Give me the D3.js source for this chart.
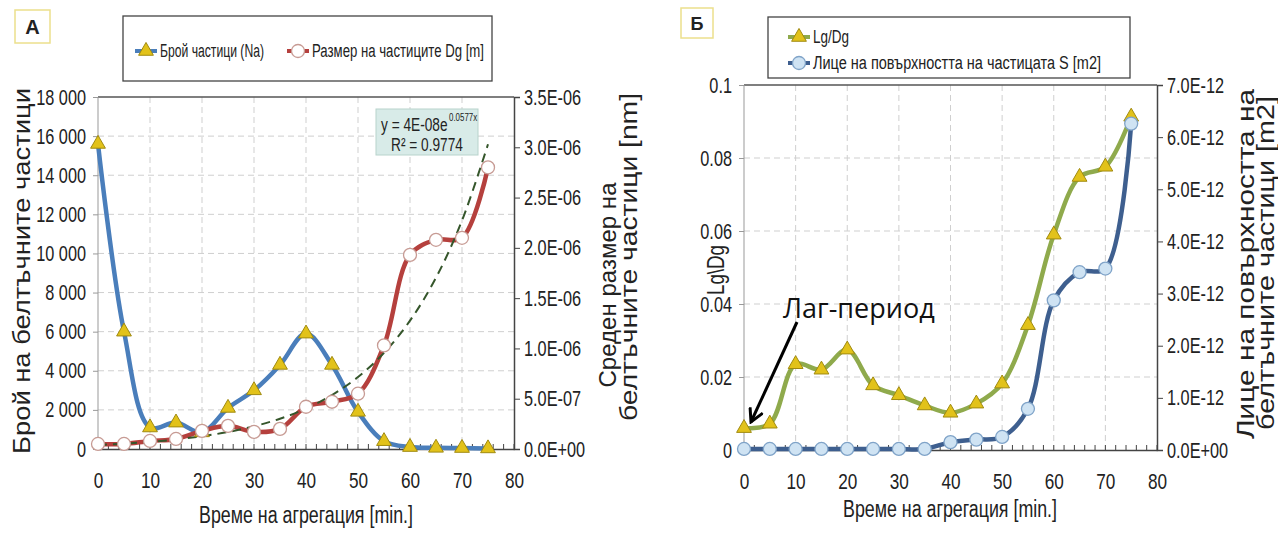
<!DOCTYPE html>
<html><head><meta charset="utf-8">
<script src="https://cdn.jsdelivr.net/npm/d3@7"></script>
<style>body{margin:0;background:#fff}svg{display:block}</style>
</head><body><svg id="c" width="1278" height="535"></svg>
<script>
// ---------- data ----------
const times = [0,5,10,15,20,25,30,35,40,45,50,55,60,65,70,75];
const naValues = [15600,6000,1100,1350,850,2100,3000,4300,5900,4300,1900,400,100,60,50,30];
const dgValues = [0.05,0.05,0.08,0.10,0.18,0.23,0.17,0.20,0.42,0.47,0.55,1.03,1.93,2.08,2.10,2.80]; // x1E-06
const dgTrend  = [0.04,0.053,0.071,0.095,0.127,0.169,0.226,0.301,0.402,0.537,0.716,0.956,1.276,1.703,2.272,3.03]; // x1E-06
const lgdgValues = [0.006,0.0072,0.0235,0.022,0.0275,0.0177,0.015,0.0122,0.0102,0.0127,0.0182,0.0342,0.059,0.0748,0.0776,0.0913];
const sValues = [0.02,0.02,0.02,0.02,0.02,0.02,0.02,0.02,0.15,0.20,0.25,0.79,2.87,3.41,3.48,6.26]; // x1E-12
const xTicks = [0,10,20,30,40,50,60,70,80];
const naTicks = [0,2000,4000,6000,8000,10000,12000,14000,16000,18000];
const naTickLabels = ["0","2 000","4 000","6 000","8 000","10 000","12 000","14 000","16 000","18 000"];
const dgTicks = [0,0.5,1,1.5,2,2.5,3,3.5];
const dgTickLabels = ["0.0E+00","5.0E-07","1.0E-06","1.5E-06","2.0E-06","2.5E-06","3.0E-06","3.5E-06"];
const lgTicks = [0,0.02,0.04,0.06,0.08,0.1];
const lgTickLabels = ["0","0.02","0.04","0.06","0.08","0.1"];
const sTicks = [0,1,2,3,4,5,6,7];
const sTickLabels = ["0.0E+00","1.0E-12","2.0E-12","3.0E-12","4.0E-12","5.0E-12","6.0E-12","7.0E-12"];

const SANS = "'Liberation Sans',Arial,sans-serif";
const NARROW = SANS;
const svg = d3.select("#c");

function squeeze(sel, f){
  sel.each(function(){
    const w = this.getComputedTextLength();
    d3.select(this).attr("textLength", w*f).attr("lengthAdjust","spacingAndGlyphs");
  });
}
function fit(sel, len){
  sel.attr("textLength", len).attr("lengthAdjust","spacingAndGlyphs");
}

const triPath = d3.symbol().type(d3.symbolTriangle).size(95)();
function marker(g, type, x, y, fill, stroke){
  if(type==="tri"){
    g.append("path").attr("d", triPath).attr("transform",`translate(${x},${y})`)
      .attr("fill",fill).attr("stroke",stroke).attr("stroke-width",1);
  } else {
    g.append("circle").attr("cx",x).attr("cy",y).attr("r",6.5)
      .attr("fill",fill).attr("stroke",stroke).attr("stroke-width",1.3);
  }
}

function panel(o){
  const g = svg.append("g");
  const x = d3.scaleLinear().domain([0,80]).range([o.x0,o.x1]);
  const yL = d3.scaleLinear().domain(o.lDomain).range([o.bottom,o.top]);
  const yR = d3.scaleLinear().domain(o.rDomain).range([o.bottom,o.top]);
  g.selectAll(".hg").data(o.lTicks.slice(1,-1)).join("line")
    .attr("x1",o.x0).attr("x2",o.x1).attr("y1",d=>yL(d)).attr("y2",d=>yL(d))
    .attr("stroke","#cfcfcf").attr("stroke-dasharray","6,4").attr("stroke-width",1);
  g.selectAll(".vg").data(xTicks.slice(1,-1)).join("line")
    .attr("x1",d=>x(d)).attr("x2",d=>x(d)).attr("y1",o.top).attr("y2",o.bottom)
    .attr("stroke","#cfcfcf").attr("stroke-dasharray","6,4").attr("stroke-width",1);
  g.append("line").attr("x1",o.x0).attr("x2",o.x1).attr("y1",o.top).attr("y2",o.top).attr("stroke","#555").attr("stroke-width",1.5);
  g.append("line").attr("x1",o.x0).attr("x2",o.x0).attr("y1",o.top).attr("y2",o.bottom).attr("stroke","#999").attr("stroke-width",1);
  const ax = g.append("g").attr("transform",`translate(${o.x0},0)`)
    .call(d3.axisLeft(yL).tickValues(o.lTicks).tickFormat((d,i)=>o.lLabels[i]).tickSize(5).tickPadding(7));
  ax.select(".domain").remove();
  ax.selectAll("line").attr("stroke","#999");
  ax.selectAll("text").attr("font-family",NARROW).attr("font-size",22).attr("fill","#222").call(squeeze,0.74);
  const ar = g.append("g").attr("transform",`translate(${o.x1},0)`)
    .call(d3.axisRight(yR).tickValues(o.rTicks).tickFormat((d,i)=>o.rLabels[i]).tickSize(6).tickPadding(4));
  ar.select(".domain").attr("stroke","#444").attr("stroke-width",1.5);
  ar.selectAll("line").attr("stroke","#444");
  ar.selectAll("text").attr("font-family",NARROW).attr("font-size",22).attr("fill","#222").call(squeeze,0.74);
  const ab = g.append("g").attr("transform",`translate(0,${o.bottom})`)
    .call(d3.axisBottom(x).tickValues(xTicks).tickSize(0).tickPadding(23));
  ab.select(".domain").attr("stroke","#444").attr("stroke-width",1.5);
  ab.selectAll("text").attr("font-family",NARROW).attr("font-size",22).attr("fill","#222").call(squeeze,0.78);
  g.selectAll(".mt").data(d3.range(0,81,2)).join("line")
    .attr("x1",d=>x(d)).attr("x2",d=>x(d)).attr("y1",o.bottom).attr("y2",o.bottom-5)
    .attr("stroke","#444").attr("stroke-width",1);
  return {g,x,yL,yR};
}

function series(p, vals, yScale, color, width){
  const pts = times.map((t,i)=>[p.x(t), yScale(vals[i])]);
  p.g.append("path").attr("d", d3.line().curve(d3.curveCatmullRom.alpha(0.5))(pts))
    .attr("fill","none").attr("stroke",color).attr("stroke-width",width).attr("stroke-linejoin","round");
  return pts;
}
function markers(p, pts, mtype, mfill, mstroke){
  pts.forEach(q=>marker(p.g, mtype, q[0], q[1], mfill, mstroke));
}
function rotTitle(x, y, text, len, size){
  svg.append("text").attr("transform",`translate(${x},${y}) rotate(-90)`).attr("text-anchor","middle")
    .attr("font-family",SANS).attr("font-size",size||22).attr("fill","#222").text(text).call(fit,len);
}

// ---------- Panel A ----------
const A = panel({x0:98,x1:514,top:97,bottom:449,lDomain:[0,18000],rDomain:[0,3.5],
  lTicks:naTicks,lLabels:naTickLabels,rTicks:dgTicks,rLabels:dgTickLabels});
const naPts = series(A, naValues, A.yL, "#4a7ebb", 4.5);
const dgPts = series(A, dgValues, A.yR, "#b5403d", 4.5);
A.g.append("path").attr("d", d3.line().curve(d3.curveCatmullRom)(times.map((t,i)=>[A.x(t),A.yR(dgTrend[i])])))
  .attr("fill","none").attr("stroke","#35562b").attr("stroke-width",2).attr("stroke-dasharray","9,6");
markers(A, naPts, "tri", "#e2c21a", "#a08a10");
markers(A, dgPts, "circ", "#ffffff", "#c79b94");

// equation box
A.g.append("rect").attr("x",376).attr("y",109).attr("width",102).attr("height",46)
  .attr("fill","#d8ebe8").attr("stroke","#b8d3cc");
A.g.append("text").attr("transform","translate(381,131) scale(0.72,1)").attr("font-family",NARROW).attr("font-size",19).attr("fill","#222")
  .text("y = 4E-08e");
A.g.append("text").attr("transform","translate(449,121) scale(0.72,1)").attr("font-family",NARROW).attr("font-size",11).attr("fill","#222")
  .text("0.0577x");
A.g.append("text").attr("transform","translate(427,151) scale(0.72,1)").attr("text-anchor","middle").attr("font-family",NARROW).attr("font-size",19).attr("fill","#222").text("R² = 0.9774");

// axis titles A
rotTitle(30,271,"Брой на белтъчните частици",366,23);
rotTitle(616,285,"Среден размер на",205,23);
rotTitle(637,257,"белтъчните частици [nm]",328,23);
svg.append("text").attr("x",306).attr("y",523).attr("text-anchor","middle")
  .attr("font-family",NARROW).attr("font-size",23).attr("fill","#222").text("Време на агрегация [min.]").call(fit,214);

// legend A
svg.append("rect").attr("x",123).attr("y",16).attr("width",369).attr("height",65).attr("fill","#fff").attr("stroke","#444").attr("stroke-width",1.3);
function legItem(x,y,color,mtype,mfill,mstroke,label,len){
  svg.append("line").attr("x1",x).attr("x2",x+22).attr("y1",y).attr("y2",y).attr("stroke",color).attr("stroke-width",4);
  marker(svg, mtype, x+11, y, mfill, mstroke);
  svg.append("text").attr("x",x+25).attr("y",y+6).attr("font-family",NARROW).attr("font-size",18).attr("fill","#222").text(label).call(fit,len);
}
legItem(135,51,"#4a7ebb","tri","#e2c21a","#a08a10","Брой частици (Na)",104);
legItem(287,51,"#b5403d","circ","#ffffff","#c79b94","Размер на частиците Dg [m]",172);
svg.append("rect").attr("x",15).attr("y",10).attr("width",35).attr("height",33).attr("fill","#fff").attr("stroke","#ecdf8c").attr("stroke-width",1.5);
svg.append("text").attr("x",32.5).attr("y",34).attr("text-anchor","middle").attr("font-family",SANS).attr("font-weight","bold").attr("font-size",20).attr("fill","#222").text("A");

// ---------- Panel Б ----------
const B = panel({x0:744,x1:1157,top:85,bottom:450,lDomain:[0,0.1],rDomain:[0,7],
  lTicks:lgTicks,lLabels:lgTickLabels,rTicks:sTicks,rLabels:sTickLabels});
const lgPts = series(B, lgdgValues, B.yL, "#8faa4c", 4.5);
const sPts = series(B, sValues, B.yR, "#3e5f8f", 4.5);
markers(B, lgPts, "tri", "#e2c21a", "#a08a10");
markers(B, sPts, "circ", "#cfe3f3", "#7fa3c8");

rotTitle(724,270,"Lg\\Dg",50,24);
rotTitle(1254,264,"Лице на повърхността на",350,23);
rotTitle(1274,263,"белтъчните частици [m2]",334,23);
svg.append("text").attr("x",950).attr("y",517).attr("text-anchor","middle")
  .attr("font-family",NARROW).attr("font-size",23).attr("fill","#222").text("Време на агрегация [min.]").call(fit,214);

// annotation
svg.append("defs").append("marker").attr("id","ah").attr("viewBox","-14 -8 16 16").attr("refX",0).attr("refY",0)
  .attr("markerWidth",16).attr("markerHeight",16).attr("markerUnits","userSpaceOnUse").attr("orient","auto")
  .append("path").attr("d","M-13,-7 L0,0 L-13,7").attr("fill","none").attr("stroke","#000").attr("stroke-width",3);
svg.append("line").attr("x1",797).attr("y1",322).attr("x2",751).attr("y2",422)
  .attr("stroke","#000").attr("stroke-width",3).attr("marker-end","url(#ah)");
svg.append("text").attr("x",783).attr("y",318).attr("font-family","'Open Sans','Noto Sans',sans-serif").attr("font-size",27).attr("fill","#111").text("Лаг-период");

// legend Б
svg.append("rect").attr("x",768).attr("y",17).attr("width",362).attr("height",61).attr("fill","#fff").attr("stroke","#444").attr("stroke-width",1.3);
legItem(788,37,"#8faa4c","tri","#e2c21a","#a08a10","Lg/Dg",36);
legItem(788,63,"#3e5f8f","circ","#cfe3f3","#7fa3c8","Лице на повърхността на частицата S [m2]",288);
svg.append("rect").attr("x",681).attr("y",8).attr("width",32).attr("height",30).attr("fill","#fff").attr("stroke","#ecdf8c").attr("stroke-width",1.5);
svg.append("text").attr("x",697).attr("y",30).attr("text-anchor","middle").attr("font-family",SANS).attr("font-weight","bold").attr("font-size",18).attr("fill","#222").text("Б");
</script></body></html>
